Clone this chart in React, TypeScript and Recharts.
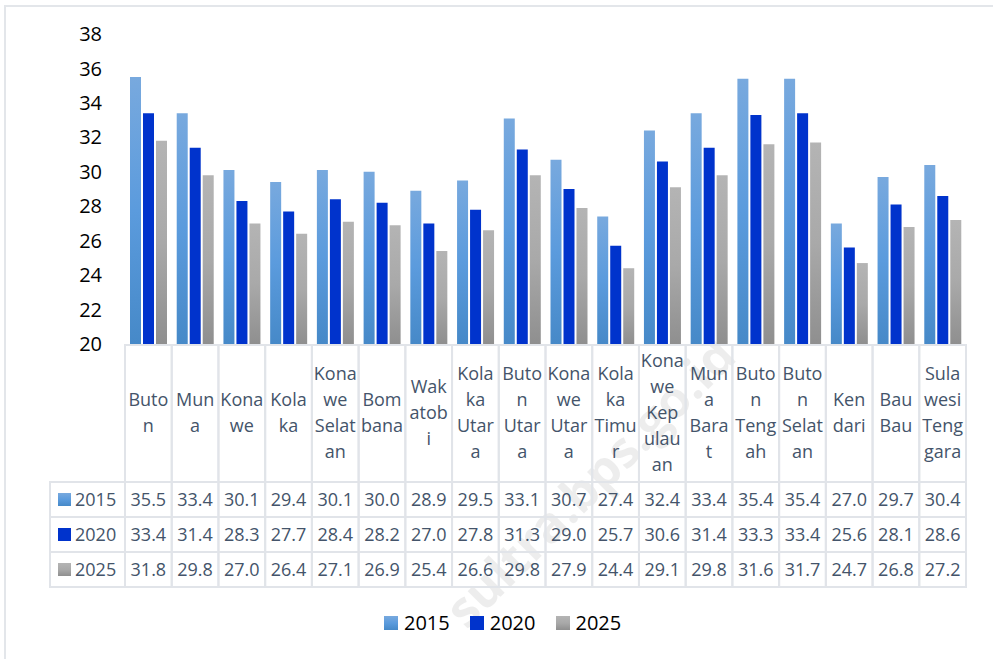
import React from 'react';
import { BarChart, Bar, XAxis, YAxis, Legend } from 'recharts';

const categories = [
  'Buton', 'Muna', 'Konawe', 'Kolaka', 'Konawe Selatan', 'Bombana', 'Wakatobi', 'Kolaka Utara', 'Buton Utara',
  'Konawe Utara', 'Kolaka Timur', 'Konawe Kepulauan', 'Muna Barat', 'Buton Tengah', 'Buton Selatan', 'Kendari',
  'Bau Bau', 'Sulawesi Tenggara',
];

// header cells as they wrap in the data table
const tickLines = [
  ['Buto', 'n'], ['Mun', 'a'], ['Kona', 'we'], ['Kola', 'ka'], ['Kona', 'we', 'Selat', 'an'], ['Bom', 'bana'],
  ['Wak', 'atob', 'i'], ['Kola', 'ka', 'Utar', 'a'], ['Buto', 'n', 'Utar', 'a'], ['Kona', 'we', 'Utar', 'a'],
  ['Kola', 'ka', 'Timu', 'r'], ['Kona', 'we', 'Kep', 'ulau', 'an'], ['Mun', 'a', 'Bara', 't'], ['Buto', 'n', 'Teng', 'ah'],
  ['Buto', 'n', 'Selat', 'an'], ['Ken', 'dari'], ['Bau', 'Bau'], ['Sula', 'wesi', 'Teng', 'gara'],
];

const v2015 = [35.5, 33.4, 30.1, 29.4, 30.1, 30.0, 28.9, 29.5, 33.1, 30.7, 27.4, 32.4, 33.4, 35.4, 35.4, 27.0, 29.7, 30.4];
const v2020 = [33.4, 31.4, 28.3, 27.7, 28.4, 28.2, 27.0, 27.8, 31.3, 29.0, 25.7, 30.6, 31.4, 33.3, 33.4, 25.6, 28.1, 28.6];
const v2025 = [31.8, 29.8, 27.0, 26.4, 27.1, 26.9, 25.4, 26.6, 29.8, 27.9, 24.4, 29.1, 29.8, 31.6, 31.7, 24.7, 26.8, 27.2];

const yTicks = [20, 22, 24, 26, 28, 30, 32, 34, 36, 38];

const series = [
  { key: 's2015', name: '2015', values: v2015, fill: 'url(#g2015)' },
  { key: 's2020', name: '2020', values: v2020, fill: '#0033CC' },
  { key: 's2025', name: '2025', values: v2025, fill: 'url(#g2025)' },
];

const data = categories.map((name, i) => ({
  name,
  s2015: v2015[i],
  s2020: v2020[i],
  s2025: v2025[i],
}));

const W = 993;
const H = 659;
const LEFT = 125;
const RIGHT = 27;
const TOP = 34;
const PLOT_BOTTOM = 344;
const HEAD_BOTTOM = 482;
const ROW_H = 35;
const TABLE_BOTTOM = HEAD_BOTTOM + ROW_H * 3;
const COL_W = (W - LEFT - RIGHT) / categories.length;
const GRID = '#e1e4e9';
const TXT = '#44546A';
const FONT = '"Open Sans", sans-serif';

function TableColumn(props: any) {
  const { x, payload } = props;
  const i = payload.index;
  const left = x - COL_W / 2;
  const lines = tickLines[i];
  const headMid = (PLOT_BOTTOM + HEAD_BOTTOM) / 2;
  const firstY = headMid - ((lines.length - 1) * 26) / 2;
  return (
    <g fontFamily={FONT} fontSize={18} fill={TXT}>
      <rect x={left} y={PLOT_BOTTOM + 1} width={COL_W} height={TABLE_BOTTOM - PLOT_BOTTOM - 1} fill="none" stroke={GRID} strokeWidth={2} />
      {[0, 1, 2].map((r) => (
        <line key={r} x1={left} x2={left + COL_W} y1={HEAD_BOTTOM + r * ROW_H} y2={HEAD_BOTTOM + r * ROW_H} stroke={GRID} strokeWidth={2} />
      ))}
      {lines.map((t, k) => (
        <text key={k} x={x} y={firstY + k * 26 + 6} textAnchor="middle">{t}</text>
      ))}
      {series.map((s, r) => (
        <text key={s.key} x={x} y={HEAD_BOTTOM + r * ROW_H + ROW_H / 2 + 6.5} textAnchor="middle">
          {s.values[i].toFixed(1)}
        </text>
      ))}
    </g>
  );
}

function RowLabels() {
  return (
    <g fontFamily={FONT} fontSize={18} fill={TXT}>
      {series.map((s, r) => {
        const top = HEAD_BOTTOM + r * ROW_H;
        return (
          <g key={s.key}>
            <rect x={50} y={top} width={LEFT - 50} height={ROW_H} fill="none" stroke={GRID} strokeWidth={2} />
            <rect x={58} y={top + 11} width={13} height={13} fill={s.fill} />
            <text x={75} y={top + ROW_H / 2 + 6.5}>{s.name}</text>
          </g>
        );
      })}
    </g>
  );
}

function LegendContent() {
  return (
    <div style={{ display: 'flex', alignItems: 'center', fontFamily: FONT, fontSize: 20, color: '#000' }}>
      {series.map((s, r) => (
        <div key={s.key} style={{ display: 'flex', alignItems: 'center', marginRight: r < 2 ? 20 : 0 }}>
          <svg width={14} height={14} style={{ marginRight: 6 }}>
            <rect width={14} height={14} fill={s.fill} />
          </svg>
          <span>{s.name}</span>
        </div>
      ))}
    </div>
  );
}

export default function App() {
  return (
    <div style={{ position: 'absolute', left: 0, top: 0, width: W, height: H, background: '#fff' }}>
      <svg width={0} height={0} style={{ position: 'absolute' }}>
        <defs>
          <linearGradient id="g2015" x1="0" y1="0" x2="0" y2="1">
            <stop offset="0%" stopColor="#78A9DE" />
            <stop offset="50%" stopColor="#5B9BDD" />
            <stop offset="100%" stopColor="#4689C8" />
          </linearGradient>
          <linearGradient id="g2025" x1="0" y1="0" x2="0" y2="1">
            <stop offset="0%" stopColor="#B4B4B4" />
            <stop offset="50%" stopColor="#A9A9A9" />
            <stop offset="100%" stopColor="#8F8F8F" />
          </linearGradient>
        </defs>
      </svg>
      <BarChart
        width={W}
        height={H}
        data={data}
        margin={{ top: TOP, right: RIGHT, bottom: H - TABLE_BOTTOM, left: 0 }}
        barSize={11}
        barGap={2}
      >
        <rect x={5} y={6} width={W + 10} height={H + 10} fill="none" stroke="#e3e6ea" strokeWidth={2} />
        <YAxis
          type="number"
          domain={[20, 38]}
          ticks={yTicks}
          width={LEFT}
          axisLine={false}
          tickLine={false}
          tickSize={0}
          tickMargin={23}
          tick={{ fontSize: 20, fill: '#000', fontFamily: FONT }}
        />
        <XAxis
          dataKey="name"
          interval={0}
          height={TABLE_BOTTOM - PLOT_BOTTOM}
          axisLine={false}
          tickLine={false}
          tickSize={0}
          tick={<TableColumn />}
        />
        {series.map((s) => (
          <Bar key={s.key} dataKey={s.key} name={s.name} fill={s.fill} isAnimationActive={false} />
        ))}
        <RowLabels />
        <Legend
          layout="horizontal"
          verticalAlign="middle"
          align="center"
          content={<LegendContent />}
          wrapperStyle={{ position: 'absolute', top: 609, left: 384, width: 260 }}
        />
        <text
          x={590}
          y={500}
          transform="rotate(-45 590 482)"
          textAnchor="middle"
          fontFamily={FONT}
          fontWeight="bold"
          fontSize={50}
          fill="#000"
          fillOpacity={0.07}
        >
          sultra.bps.go.id
        </text>
      </BarChart>
    </div>
  );
}
